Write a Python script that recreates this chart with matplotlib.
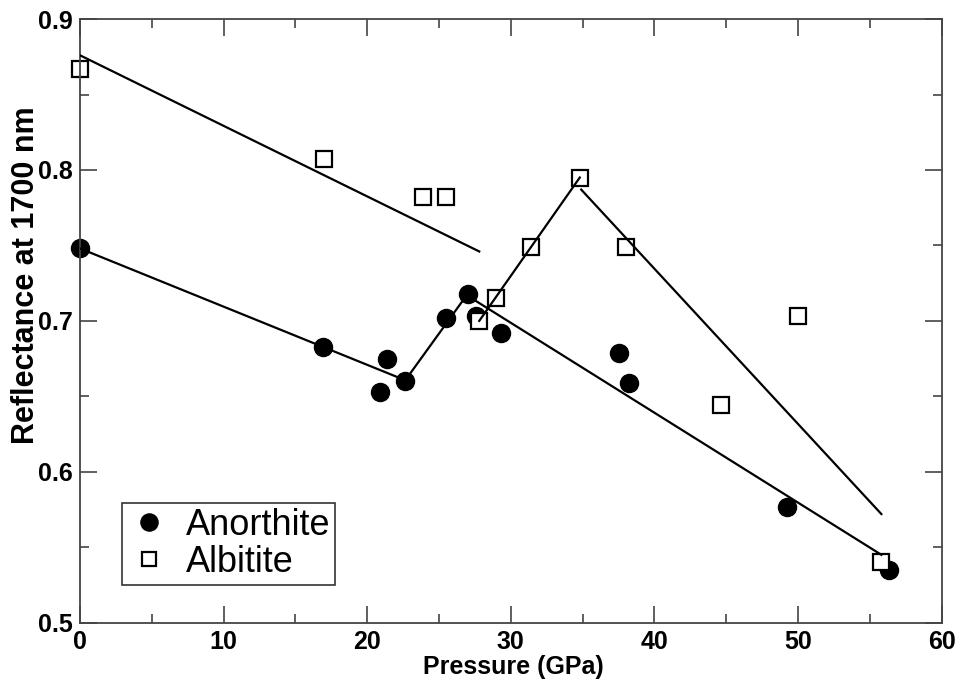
import matplotlib
matplotlib.use('Agg')
import matplotlib.pyplot as plt
from matplotlib.ticker import MultipleLocator

plt.rcParams['font.family'] = ['Liberation Sans', 'DejaVu Sans']

# measured points
anorthite_p = [0, 16.9, 21.4, 20.9, 22.6, 25.5, 27.0, 27.6, 29.3, 37.5, 38.2, 49.2, 56.3]
anorthite_r = [0.748, 0.683, 0.675, 0.653, 0.660, 0.702, 0.718, 0.703, 0.692, 0.679, 0.659, 0.577, 0.535]

albitite_p = [0, 17.0, 23.9, 25.5, 27.8, 29.0, 31.4, 34.8, 38.0, 44.6, 50.0, 55.8]
albitite_r = [0.867, 0.807, 0.782, 0.782, 0.700, 0.715, 0.749, 0.795, 0.749, 0.644, 0.703, 0.540]

# fitted trend segments
an_fit1_p = [0, 22.3]
an_fit1_r = [0.748, 0.662]
an_fit2_p = [22.6, 27.0]
an_fit2_r = [0.660, 0.718]
an_fit3_p = [27.6, 55.8]
an_fit3_r = [0.713, 0.545]

ab_fit1_p = [0, 27.8]
ab_fit1_r = [0.876, 0.746]
ab_fit2_p = [27.8, 34.8]
ab_fit2_r = [0.700, 0.795]
ab_fit3_p = [34.9, 55.8]
ab_fit3_r = [0.787, 0.572]

fig = plt.figure(figsize=(9.57, 6.81), dpi=100)
ax = fig.add_axes([0.0836, 0.0856, 0.9004, 0.8864])

ax.plot(anorthite_p, anorthite_r, 'o', color='black', markersize=13,
        linestyle='none', label='Anorthite', zorder=2, clip_on=False)
ax.plot(albitite_p, albitite_r, 's', markerfacecolor='white', markeredgecolor='black',
        markersize=11, markeredgewidth=1.6, linestyle='none', label='Albitite',
        zorder=2, clip_on=False)

for xs, ys in [(an_fit1_p, an_fit1_r), (an_fit2_p, an_fit2_r), (an_fit3_p, an_fit3_r),
               (ab_fit1_p, ab_fit1_r), (ab_fit2_p, ab_fit2_r), (ab_fit3_p, ab_fit3_r)]:
    ax.plot(xs, ys, color='black', linewidth=1.6, zorder=3)

ax.set_xlim(0, 60)
ax.set_ylim(0.5, 0.9)
ax.xaxis.set_major_locator(MultipleLocator(10))
ax.xaxis.set_minor_locator(MultipleLocator(5))
ax.yaxis.set_major_locator(MultipleLocator(0.1))
ax.yaxis.set_minor_locator(MultipleLocator(0.05))
ax.tick_params(which='both', direction='in', top=True, right=True, color='#444444')
ax.tick_params(which='major', length=12, width=1.2, labelsize=18, pad=5)
ax.tick_params(which='minor', length=6.5, width=1.2)
for lab in ax.get_xticklabels() + ax.get_yticklabels():
    lab.set_fontweight('bold')
for sp in ax.spines.values():
    sp.set_linewidth(1.3)
    sp.set_color('#444444')

ax.set_xlabel('Pressure (GPa)', fontsize=18, fontweight='bold')
ax.xaxis.set_label_coords(0.503, -0.053)
ax.set_ylabel('Reflectance at 1700 nm', fontsize=22, fontweight='bold')
ax.yaxis.set_label_coords(-0.045, 0.576)

leg = ax.legend(loc='lower left', bbox_to_anchor=(0.049, 0.062), fontsize=26,
                frameon=True, fancybox=False, borderaxespad=0, borderpad=0.15,
                handletextpad=0.4, labelspacing=0.05, handlelength=1.2, markerscale=0.95)
leg.get_frame().set_edgecolor('black')
leg.get_frame().set_linewidth(1.2)

plt.savefig('out.png', dpi=100)
